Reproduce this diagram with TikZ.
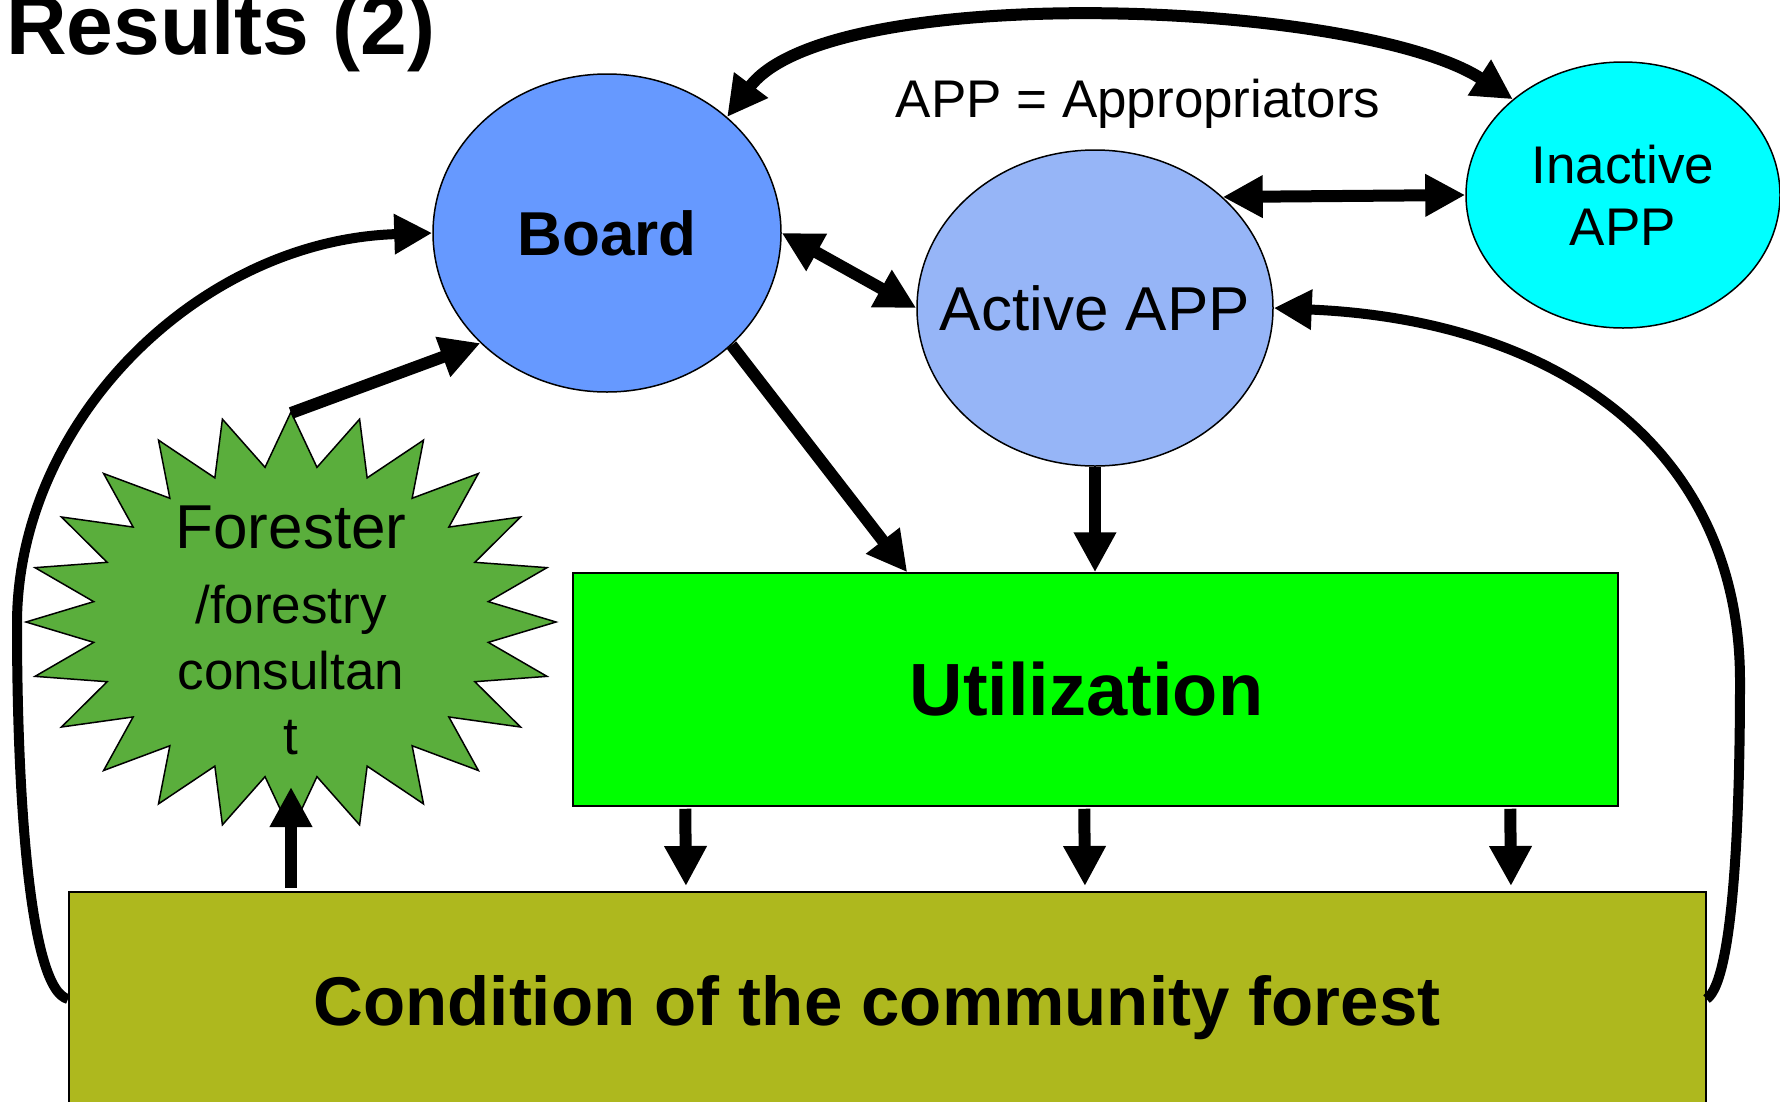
\documentclass[tikz,border=0pt]{standalone}
\usepackage{fontspec}
\setmainfont{Liberation Sans}
\usetikzlibrary{arrows.meta,shapes.geometric,calc}
\definecolor{boardblue}{RGB}{102,153,255}
\definecolor{activeblue}{RGB}{150,181,247}
\definecolor{inactcyan}{RGB}{0,255,255}
\definecolor{utilgreen}{RGB}{0,255,0}
\definecolor{condolive}{RGB}{174,184,30}
\definecolor{stargreen}{RGB}{90,174,60}
\newcommand\fsz[1]{\fontsize{#1}{#1}\selectfont}
\begin{document}
\begin{tikzpicture}[x=1pt,y=-1pt,
  shp/.style={draw=black, line width=1.5pt},
  ell/.style={shp, ellipse, inner sep=0pt},
  arr/.style={line width=12pt, -{Triangle[length=40pt,width=40pt]}},
  dbl/.style={line width=12pt, {Triangle[length=40pt,width=40pt]}-{Triangle[length=40pt,width=40pt]}},
  carr/.style={line width=10pt, -{Triangle[length=38pt,width=38pt]}}
]
\clip (0,0) rectangle (1780,1101);

% title
\node[anchor=base west, inner sep=0pt, font=\fsz{84}\bfseries] (title) at (6,54) {Results (2)};

% nodes
\node[ell, fill=boardblue, minimum width=348pt, minimum height=318pt,
  label={[font=\fsz{62}\bfseries]center:Board}] (board) at (607,233) {};
\node[ell, fill=activeblue, minimum width=356pt, minimum height=316pt,
  label={[font=\fsz{62}]center:Active APP}] (active) at (1095,308) {};
\node[ell, fill=inactcyan, minimum width=314pt, minimum height=266pt,
  label={[align=center, font=\fontsize{53}{62}\selectfont]center:Inactive\\APP}] (inactive) at (1623,195) {};
\node[shp, fill=utilgreen, minimum width=1045pt, minimum height=233pt, inner sep=0pt,
  label={[font=\fsz{74}\bfseries, xshift=-9pt]center:Utilization}] (util) at (1095.5,689.5) {};
\node[shp, fill=condolive, minimum width=1637pt, minimum height=320pt, inner sep=0pt, anchor=north west] (cond) at (68,891) {};
\node[anchor=base, inner sep=0pt, font=\fsz{69}\bfseries] (condtext) at (877,1025) {Condition of the community forest};
\node[anchor=base, inner sep=0pt, font=\fsz{53}] (legend) at (1138,117) {APP = Appropriators};

% star
\coordinate (starc) at (291,622);
\draw[shp, fill=stargreen, line join=miter]
  plot[samples at={0,...,47}, variable=\k]
  ({291 + (mod(\k,2)==0 ? 265 : 199)*cos(7.5*\k)}, {622 + (mod(\k,2)==0 ? 210 : 156)*sin(7.5*\k)}) -- cycle;
\node[anchor=base, inner sep=0pt, font=\fsz{62}] (forester) at (291,548) {Forester};
\node[anchor=base, inner sep=0pt, font=\fsz{53}] (forestry) at (291,623) {/forestry};
\node[anchor=base, inner sep=0pt, font=\fsz{53}] (consultan) at (291,689) {consultan};
\node[anchor=base, inner sep=0pt, font=\fsz{53}] (tt) at (291,754) {t};

% connectors
\draw[dbl] (board.44) .. controls (830,-20) and (1360,0) .. (inactive.139);
\draw[dbl] (board.east) -- (active.west);
\draw[dbl] (active.41.6) -- (inactive.west);
\draw[arr] (board.-42) -- ($(util.north west)+(335,0)$);
\draw[arr] (active.south) -- (active.south |- util.north);
\draw[arr, shorten <=2pt, shorten >=5pt] ($(util.south west)+(113,0)$) -- ($(cond.north west)+(618,0)$);
\draw[arr, shorten <=2pt, shorten >=5pt] ($(util.south west)+(512,0)$) -- ($(cond.north west)+(1017,0)$);
\draw[arr, shorten <=2pt, shorten >=5pt] ($(util.south west)+(938,0)$) -- ($(cond.north west)+(1443,0)$);
\draw[arr] ($(cond.north west)+(223,-3)$) -- ($(starc)+(0,165)$);
\draw[arr] ($(starc)+(0,-209)$) -- (board.221.6);
\draw[carr] ($(cond.north west)+(0,108)$) .. controls (30,990) and (17,800) .. (17,624)
  .. controls (17,420) and (200,240) .. (board.west);
\draw[carr] ($(cond.north east)+(0,108)$) .. controls (1735,980) and (1740,800) .. (1740,681)
  .. controls (1740,450) and (1560,320) .. (active.east);
\end{tikzpicture}
\end{document}
